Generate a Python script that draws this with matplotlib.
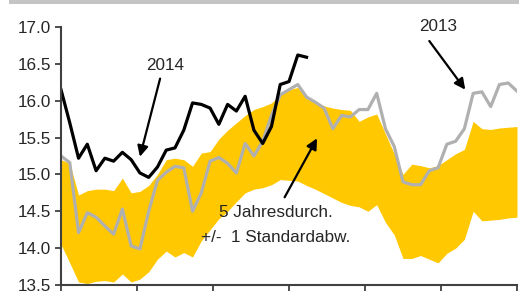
import numpy as np
import matplotlib
matplotlib.use('agg')
import matplotlib.pyplot as plt
from matplotlib.patches import Rectangle

plt.rcParams['font.family'] = ['Liberation Sans', 'DejaVu Sans']

# weekly values (week index 0..52)
weeks = np.arange(53)

# 2014 (only first 29 weeks available)
y2014 = [16.15, 15.70, 15.22, 15.41, 15.05, 15.22, 15.18, 15.30, 15.20, 15.02,
         14.96, 15.10, 15.33, 15.36, 15.60, 15.97, 15.95, 15.90, 15.68, 15.95,
         15.86, 16.06, 15.60, 15.42, 15.65, 16.22, 16.26, 16.62, 16.59]

# 2013
y2013 = [15.25, 15.16, 14.21, 14.48, 14.42, 14.30, 14.19, 14.53, 14.03, 13.99,
         14.50, 14.92, 15.03, 15.11, 15.09, 14.50, 14.75, 15.18, 15.23, 15.15,
         15.02, 15.42, 15.25, 15.45, 15.80, 16.08, 16.15, 16.22, 16.05, 15.98,
         15.90, 15.62, 15.80, 15.78, 15.88, 15.88, 16.10, 15.62, 15.38, 14.90,
         14.86, 14.86, 15.05, 15.09, 15.41, 15.45, 15.62, 16.10, 16.12, 15.92,
         16.22, 16.24, 16.13]

# 5-year mean +/- 1 standard deviation
band_hi = [15.20, 15.15, 14.72, 14.78, 14.80, 14.80, 14.78, 14.95, 14.75, 14.77,
           14.85, 15.00, 15.20, 15.22, 15.20, 15.11, 15.29, 15.31, 15.48, 15.60,
           15.70, 15.80, 15.88, 15.92, 15.97, 16.08, 16.15, 16.18, 16.03, 15.98,
           15.93, 15.90, 15.88, 15.87, 15.72, 15.78, 15.82, 15.55, 15.28, 15.00,
           15.14, 15.12, 15.09, 15.12, 15.20, 15.28, 15.34, 15.72, 15.62, 15.61,
           15.63, 15.64, 15.65]
band_lo = [14.05, 13.80, 13.54, 13.52, 13.55, 13.56, 13.54, 13.65, 13.54, 13.58,
           13.68, 13.85, 13.96, 13.88, 13.94, 13.88, 14.10, 14.25, 14.40, 14.50,
           14.63, 14.75, 14.80, 14.82, 14.86, 14.93, 14.92, 14.91, 14.85, 14.80,
           14.74, 14.68, 14.62, 14.58, 14.56, 14.50, 14.59, 14.35, 14.18, 13.86,
           13.86, 13.90, 13.85, 13.80, 13.93, 14.00, 14.12, 14.50, 14.37, 14.38,
           14.39, 14.41, 14.42]

yticks = [13.5, 14.0, 14.5, 15.0, 15.5, 16.0, 16.5, 17.0]

fs = 12.3
tcol = '#262626'

fig = plt.figure(figsize=(5.19, 2.91), dpi=100)
ax = fig.add_axes([61 / 519, 6 / 291, 456 / 519, 258 / 291])

# grey frame strip at the top
fig.patches.append(Rectangle((9 / 519, 287 / 291), 510 / 519, 4 / 291,
                             transform=fig.transFigure, color='#c4c4c4', lw=0))

ax.fill_between(weeks, band_lo, band_hi, color='#ffc800', lw=0, zorder=1)
ax.plot(weeks, y2013, color='#b0b0b0', lw=2.3, zorder=2)
ax.plot(weeks[:len(y2014)], y2014, color='black', lw=2.3, zorder=3)

ax.set_xlim(0, 52)
ax.set_ylim(13.5, 17.0)
ax.set_yticks(yticks)
ax.set_yticklabels(['%.1f' % v for v in yticks])
ax.set_xticks(np.linspace(0, 52, 7))
ax.set_xticklabels([])

for s in ['top', 'right']:
    ax.spines[s].set_visible(False)
for s in ['left', 'bottom']:
    ax.spines[s].set_color('#404040')
    ax.spines[s].set_linewidth(1.5)
ax.spines['left'].set_zorder(5)
ax.tick_params(axis='y', length=4, width=1.3, color='#404040',
               labelsize=fs, labelcolor=tcol, pad=3)
ax.tick_params(axis='x', length=8, width=1.3, color='#404040')

arrow = dict(arrowstyle='-|>', color='black', lw=1.6, mutation_scale=16,
             shrinkA=0, shrinkB=0)
ax.annotate('', xy=(9.0, 15.24), xytext=(11.3, 16.30), arrowprops=arrow,
            zorder=6)
ax.text(11.9, 16.48, '2014', ha='center', va='center', fontsize=fs,
        color=tcol)

ax.annotate('', xy=(46.1, 16.15), xytext=(42.0, 16.81), arrowprops=arrow,
            zorder=6, annotation_clip=False)
ax.text(43.0, 17.0, '2013', ha='center', va='center', fontsize=fs,
        color=tcol, clip_on=False)

ax.annotate('', xy=(29.2, 15.49), xytext=(25.5, 14.69), arrowprops=arrow,
            zorder=6)
ax.text(24.5, 14.48, '5 Jahresdurch.', ha='center', va='center',
        fontsize=fs, color=tcol, zorder=6)
ax.text(24.5, 14.15, '+/-  1 Standardabw.', ha='center', va='center',
        fontsize=fs, color=tcol, zorder=6)

fig.savefig('out.png', dpi=100)
